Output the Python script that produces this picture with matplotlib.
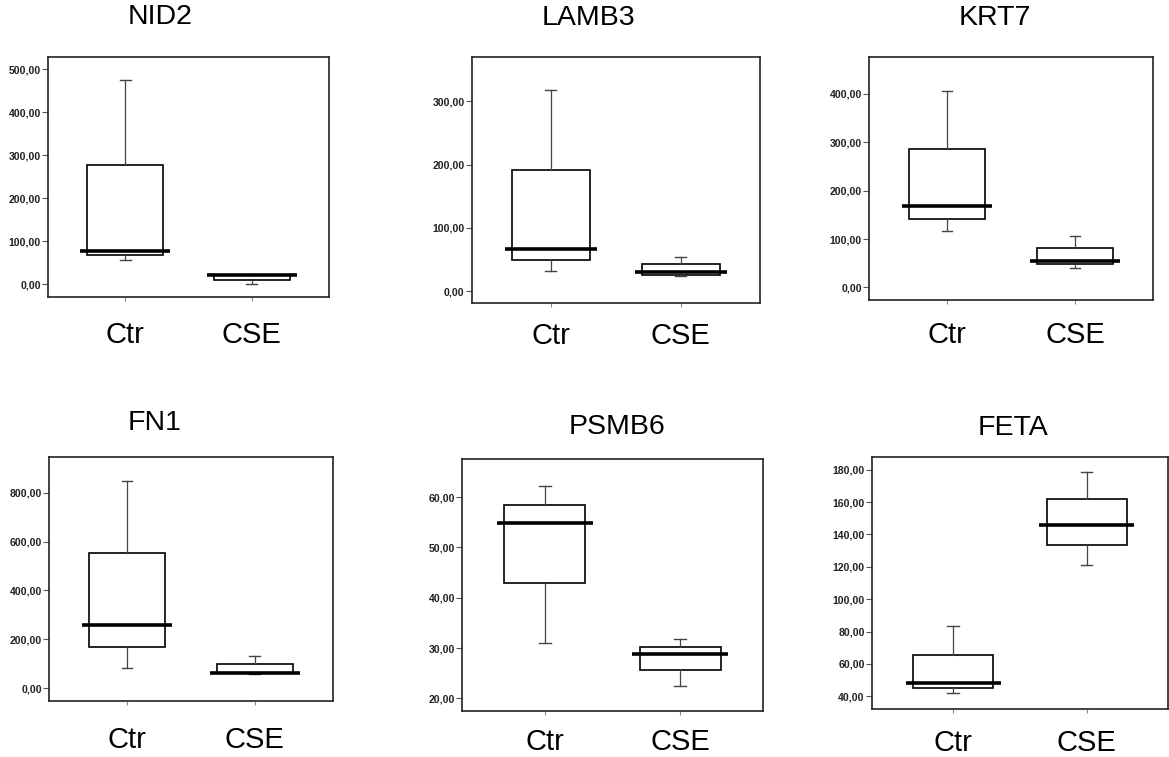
import matplotlib
matplotlib.use('Agg')
import matplotlib.pyplot as plt

# box summary values: (whisker low, Q1, median, Q3, whisker high)
genes = ['NID2', 'LAMB3', 'KRT7', 'FN1', 'PSMB6', 'FETA']
groups = ['Ctr', 'CSE']

ctr_stats = [
    (56, 67, 77, 276, 474),
    (32, 49, 67, 192, 318),
    (116, 142, 168, 286, 405),
    (82, 170, 259, 552, 848),
    (31.0, 43.0, 54.9, 58.5, 62.2),
    (42.2, 44.9, 48.0, 65.6, 83.6),
]
cse_stats = [
    (0, 10, 21, 22, 22),
    (24, 26, 30, 42, 53),
    (40, 48, 54, 81, 107),
    (60, 63, 64, 99, 133),
    (22.5, 25.6, 28.8, 30.3, 31.8),
    (121.1, 133.5, 145.9, 162.1, 178.6),
]

y_limits = [(-30, 528), (-19, 370), (-26, 476), (-51, 947), (17.5, 67.5), (32, 188)]
y_ticks = [
    [0, 100, 200, 300, 400, 500],
    [0, 100, 200, 300],
    [0, 100, 200, 300, 400],
    [0, 200, 400, 600, 800],
    [20, 30, 40, 50, 60],
    [40, 60, 80, 100, 120, 140, 160, 180],
]

axes_rects = [
    [0.0411, 0.6077, 0.2404, 0.3170],
    [0.4035, 0.5997, 0.2466, 0.3250],
    [0.7434, 0.6037, 0.2429, 0.3210],
    [0.0419, 0.0744, 0.2429, 0.3223],
    [0.3955, 0.0608, 0.2570, 0.3325],
    [0.7457, 0.0630, 0.2535, 0.3337],
]
title_xy = [(160, 17), (588, 18), (995, 18), (155, 423), (617, 427), (1013, 428)]
label_pads = [14, 10.5, 12, 15, 9.5, 11]

W, H = 1169, 757
plt.rcParams['font.family'] = ['Liberation Sans', 'DejaVu Sans']

fig = plt.figure(figsize=(W / 100, H / 100), dpi=100)

for i, gene in enumerate(genes):
    ax = fig.add_axes(axes_rects[i])
    stats = []
    for s, name in zip([ctr_stats[i], cse_stats[i]], groups):
        lo, q1, med, q3, hi = s
        stats.append({'whislo': lo, 'q1': q1, 'med': med, 'q3': q3,
                      'whishi': hi, 'fliers': [], 'label': name})
    bp = ax.bxp(stats, positions=[1, 2], widths=0.6, capwidths=0.085,
                showfliers=False, patch_artist=True,
                boxprops=dict(facecolor='white', edgecolor='black', linewidth=1.2),
                whiskerprops=dict(color='#444444', linewidth=0.9),
                capprops=dict(color='#444444', linewidth=1.0),
                medianprops=dict(color='black', linewidth=2.6, solid_capstyle='butt'))
    # SPSS style: median bar sticks out past the box
    for pos, line in zip([1, 2], bp['medians']):
        line.set_xdata([pos - 0.355, pos + 0.355])
        line.set_zorder(5)

    ax.set_xlim(0.39, 2.61)
    ax.set_ylim(*y_limits[i])
    ax.set_yticks(y_ticks[i])
    ax.set_yticklabels([('%.2f' % v).replace('.', ',') for v in y_ticks[i]],
                       fontsize=7.6, fontweight='bold', color='#222222')
    ax.set_xticks([1, 2])
    ax.set_xticklabels(groups, fontsize=21)
    ax.tick_params(axis='y', length=4, width=0.8, color='#555555', pad=1)
    ax.tick_params(axis='x', length=3, width=0.8, color='#888888', pad=label_pads[i])
    for sp in ax.spines.values():
        sp.set_linewidth(1.2)
        sp.set_color('#222222')

    tx, ty = title_xy[i]
    fig.text(tx / W, 1 - ty / H, gene, fontsize=20.5, ha='center', va='center')

fig.savefig('out.png', dpi=100)
